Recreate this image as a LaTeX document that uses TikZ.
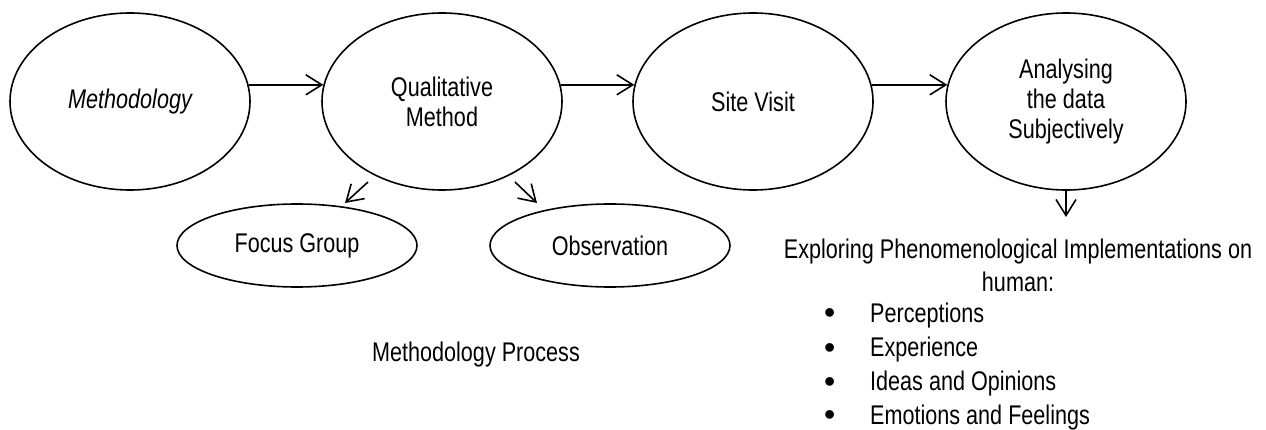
\documentclass[tikz,border=0pt]{standalone}
\usepackage{fontspec}
\setmainfont{Liberation Sans}[FakeStretch=0.8]
\newfontfamily\bulletfont{Liberation Sans}
\usetikzlibrary{arrows.meta,shapes.geometric,calc}
\newcommand{\mybullet}{\makebox[46pt][l]{\raisebox{-1.8pt}{\bulletfont\fontsize{32}{30}\selectfont •}}}
\begin{document}
\begin{tikzpicture}[x=1pt,y=-1pt,
  every node/.style={font=\fontsize{27}{30}\selectfont},
  bigell/.style={ellipse,draw,line width=1.6pt,minimum width=240pt,minimum height=177pt,inner sep=0pt,align=center},
  smallell/.style={ellipse,draw,line width=1.6pt,minimum width=240pt,minimum height=83pt,inner sep=0pt,align=center},
  arr/.style={line width=1.6pt,-{Straight Barb[length=16pt,width=20pt]}},
  txt/.style={inner sep=0pt,anchor=base},
  itemtxt/.style={inner sep=0pt,anchor=base west}]
\useasboundingbox (0,0) rectangle (1266,430);
% main ellipses
\node[bigell] (m) at (130,101.5) {\itshape Methodology};
\node[bigell] (q) at (442,101.5) {Qualitative\\Method};
\node[bigell] (s) at (753,101.5) {Site Visit};
\node[bigell] (a) at (1066,101.5) {Analysing\\the data\\Subjectively};
% sub ellipses
\node[smallell] (fg) at (297,245.5) {Focus Group};
\node[smallell] (ob) at (610,245.5) {Observation};
% horizontal arrows
\draw[arr] (m.8) -- (q.172);
\draw[arr] (q.8) -- (s.172);
\draw[arr] (s.8) -- (a.172);
% diagonal arrows
\coordinate (fgs) at (368,182);
\coordinate (fge) at (345,203);
\coordinate (obs) at (515,182);
\coordinate (obe) at (537,203);
\draw[arr] (fgs) -- (fge);
\draw[arr] (obs) -- (obe);
% down arrow
\coordinate (dn) at (1066,217);
\draw[arr] (a.south) -- (dn);
% caption
\node[txt] (cap) at (476,361) {Methodology Process};
% exploring text
\node[txt] (e1) at (1018,259) {Exploring Phenomenological Implementations on};
\node[txt] (e2) at (1018,291) {human:};
\node[itemtxt] (b1) at (824,322) {\mybullet Perceptions};
\node[itemtxt] (b2) at (824,356.5) {\mybullet Experience};
\node[itemtxt] (b3) at (824,390.5) {\mybullet Ideas and Opinions};
\node[itemtxt] (b4) at (824,424) {\mybullet Emotions and Feelings};
\end{tikzpicture}
\end{document}
